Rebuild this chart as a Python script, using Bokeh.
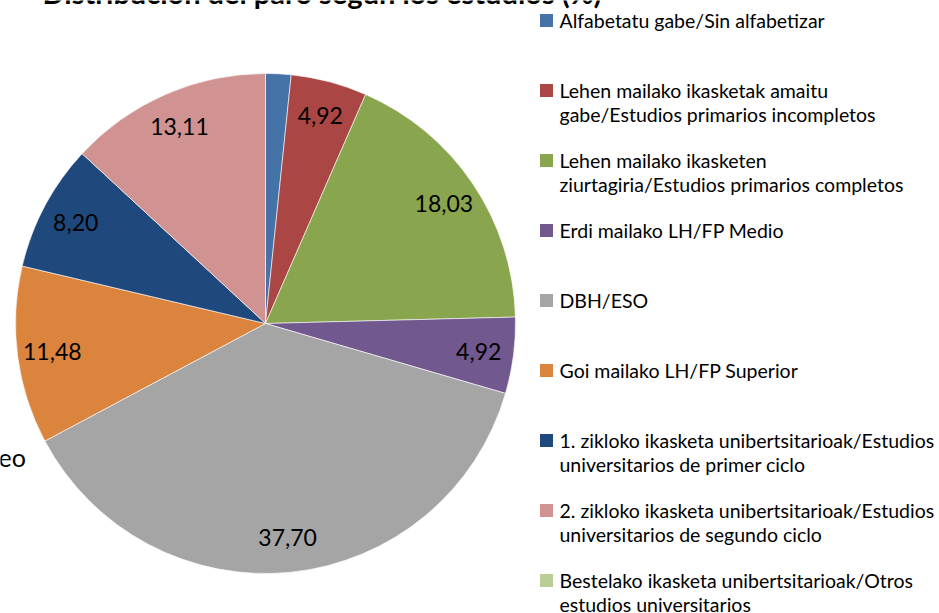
import math
from bokeh.plotting import figure
from bokeh.models import Range1d, ColumnDataSource
from bokeh.core.properties import value
from bokeh.embed import file_html
from bokeh.resources import INLINE

# ---- data ----
categories = [
    "Alfabetatu gabe/Sin alfabetizar",
    "Lehen mailako ikasketak amaitu\ngabe/Estudios primarios incompletos",
    "Lehen mailako ikasketen\nziurtagiria/Estudios primarios completos",
    "Erdi mailako LH/FP Medio",
    "DBH/ESO",
    "Goi mailako LH/FP Superior",
    "1. zikloko ikasketa unibertsitarioak/Estudios\nuniversitarios de primer ciclo",
    "2. zikloko ikasketa unibertsitarioak/Estudios\nuniversitarios de segundo ciclo",
    "Bestelako ikasketa unibertsitarioak/Otros\nestudios universitarios",
]
values = [1.64, 4.92, 18.03, 4.92, 37.70, 11.48, 8.20, 13.11, 0.0]
labels = ["", "4,92", "18,03", "4,92", "37,70", "11,48", "8,20", "13,11", ""]
colors = ["#4572A7", "#AA4643", "#89A54E", "#71588F", "#A5A5A5",
          "#DB843D", "#1F497D", "#D09392", "#B9CD96"]
title = "Distribución del paro según los estudios (%)"

W, H = 939, 613
FONT = "Lato"

p = figure(width=W, height=H, output_backend="svg", toolbar_location=None,
           x_axis_type=None, y_axis_type=None, min_border=0,
           x_range=Range1d(0, W), y_range=Range1d(0, H))
p.grid.visible = False
p.outline_line_color = None
p.background_fill_color = "white"
p.border_fill_color = "white"

def sy(y):
    return H - y

cx, cy, r = 265, sy(323), 250
total = sum(values)
ws = dict(start=[], end=[], color=[])
ls = dict(lx=[], ly=[], label=[])
cum = 0.0
for v, c, lab in zip(values, colors, labels):
    a0 = math.pi / 2 - 2 * math.pi * cum / total
    a1 = math.pi / 2 - 2 * math.pi * (cum + v) / total
    mid = (a0 + a1) / 2
    if v > 0:
        ws["start"].append(a0)
        ws["end"].append(a1)
        ws["color"].append(c)
    if lab:
        ls["lx"].append(cx + 0.86 * r * math.cos(mid))
        ls["ly"].append(cy + 0.86 * r * math.sin(mid))
        ls["label"].append(lab)
    cum += v

p.wedge(x=cx, y=cy, radius=r, start_angle="start", end_angle="end",
        direction="clock", fill_color="color", line_color="white",
        line_width=0.6, source=ColumnDataSource(ws))
p.text(x="lx", y="ly", text="label", source=ColumnDataSource(ls),
       text_font=value(FONT), text_font_size="23px", text_align="center",
       text_baseline="middle", text_color="black")

# title (partly cut off at the top, as in the reference)
p.text(x=[42], y=[sy(-8)], text=[title], text_font=value(FONT),
       text_font_style="bold", text_font_size="29px", text_align="left",
       text_baseline="alphabetic", text_color="black")

# clipped stray label at the left edge
p.text(x=[-2], y=[sy(456)], text=["eo"], text_font=value(FONT),
       text_font_size="25px", text_align="left", text_baseline="middle",
       text_color="black")

# legend
n = len(categories)
leg_y = [sy(20 + 70 * i) for i in range(n)]
p.rect(x=[546] * n, y=leg_y, width=13, height=13, fill_color=colors,
       line_color=None)
p.text(x=[559] * n, y=[yy + 12 for yy in leg_y], text=categories,
       text_font=value(FONT), text_font_size="19.5px", text_align="left",
       text_baseline="top", text_line_height=1.06, text_color="black")

html = file_html(p, INLINE).replace(
    "<head>", "<head><style>html,body{margin:0;padding:0;overflow:hidden}</style>", 1)
open("out.html", "w").write(html)
